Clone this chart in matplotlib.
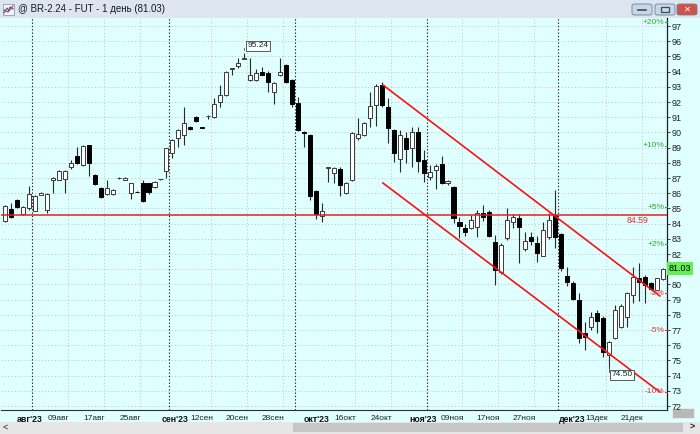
import matplotlib
matplotlib.use("Agg")
import matplotlib.pyplot as plt
from matplotlib.patches import Rectangle, FancyBboxPatch
import pandas as pd
import numpy as np

plt.rcParams["font.family"] = ["Liberation Sans", "DejaVu Sans"]

# ---------------- data ----------------
dates = pd.bdate_range("2023-07-25", "2023-12-26")

opens = [84.20, 84.96, 85.55, 84.60, 85.00, 84.85, 85.90, 84.90, 86.90, 86.87,
         86.93, 87.70, 88.45, 87.85, 89.17, 87.20, 86.35, 85.95, 85.95, 86.98,
         86.90, 86.00, 86.10, 86.67, 86.67, 86.40, 86.92, 87.46, 88.65, 89.63,
         89.80, 90.36, 91.00, 90.32, 91.05, 91.00, 92.00, 92.46, 94.15, 94.40,
         94.85, 93.45, 93.45, 93.95, 93.90, 92.66, 93.77, 94.43, 93.45, 91.93,
         90.05, 89.83, 86.14, 84.50, 87.65, 87.33, 87.60, 86.00, 86.87, 89.63,
         89.83, 90.95, 91.80, 93.12, 91.67, 90.16, 88.25, 89.63, 88.97, 90.00,
         88.18, 87.07, 87.50, 87.90, 86.67, 86.40, 84.10, 83.70, 83.70, 83.77,
         84.70, 84.76, 82.80, 80.80, 83.05, 84.10, 84.37, 82.33, 83.10, 82.70,
         81.90, 83.10, 84.57, 83.30, 80.55, 80.10, 78.97, 76.80, 77.20, 78.10,
         77.80, 75.35, 76.47, 77.20, 77.86, 79.30, 80.40, 80.50, 80.10, 79.63,
         80.36]
highs = [85.20, 85.36, 85.60, 85.15, 86.50, 85.90, 86.10, 86.00, 87.05, 87.50,
         87.50, 88.20, 89.05, 89.15, 89.20, 87.25, 86.40, 86.90, 86.25, 87.05,
         87.05, 86.70, 86.12, 86.90, 86.70, 86.80, 86.95, 89.00, 89.55, 90.20,
         91.67, 90.40, 91.05, 90.34, 91.15, 92.26, 93.10, 94.05, 94.25, 94.90,
         95.24, 94.90, 94.20, 94.30, 94.05, 93.30, 94.90, 94.50, 93.50, 92.33,
         90.08, 89.90, 86.20, 85.36, 87.75, 87.70, 87.70, 86.75, 90.05, 90.95,
         90.70, 92.66, 93.20, 93.30, 92.26, 90.20, 90.16, 90.00, 90.36, 90.36,
         88.84, 87.86, 87.95, 88.45, 86.85, 86.45, 84.43, 84.00, 84.57, 84.90,
         85.22, 84.90, 83.25, 82.75, 85.03, 84.60, 84.60, 83.45, 83.45, 83.20,
         84.10, 84.70, 86.20, 83.35, 81.15, 80.20, 79.43, 77.50, 78.20, 78.30,
         77.90, 76.30, 78.64, 78.70, 79.50, 81.15, 81.40, 80.60, 80.15, 80.45,
         81.10]
lows = [84.10, 84.37, 85.00, 84.55, 84.90, 84.80, 85.85, 84.70, 86.00, 86.85,
        86.00, 87.60, 87.95, 87.80, 87.10, 86.55, 85.70, 85.90, 85.90, 86.95,
        86.85, 85.60, 86.05, 85.45, 85.95, 86.35, 86.90, 87.00, 88.30, 89.04,
        89.17, 90.15, 90.70, 90.28, 90.85, 90.95, 91.67, 92.40, 93.80, 94.24,
        94.80, 93.40, 93.40, 93.75, 92.66, 91.87, 93.70, 93.25, 91.67, 90.10,
        89.04, 85.55, 84.30, 84.10, 86.74, 86.67, 85.82, 85.95, 86.80, 89.50,
        89.75, 90.36, 90.42, 91.70, 89.30, 88.05, 87.40, 88.00, 87.70, 87.40,
        86.74, 86.90, 86.28, 86.60, 86.55, 84.04, 83.05, 83.20, 83.65, 83.10,
        84.20, 83.10, 79.96, 80.70, 82.90, 83.70, 81.40, 82.20, 82.60, 81.47,
        81.85, 83.00, 82.40, 80.90, 79.90, 79.00, 76.14, 75.70, 77.00, 76.80,
        75.20, 74.50, 76.40, 77.10, 77.20, 78.80, 78.90, 78.80, 79.60, 79.60,
        80.30]
closes = [85.15, 84.43, 85.10, 85.10, 85.95, 85.80, 86.00, 85.95, 87.00, 87.45,
          87.46, 88.00, 88.00, 89.10, 88.00, 86.60, 85.75, 86.35, 86.20, 87.02,
          87.00, 86.67, 86.06, 85.50, 86.08, 86.74, 86.94, 88.97, 89.50, 90.16,
          90.60, 90.22, 90.75, 90.30, 91.10, 91.90, 92.46, 93.97, 94.22, 94.55,
          94.90, 93.80, 93.90, 93.80, 93.30, 93.25, 93.97, 93.30, 91.87, 90.16,
          89.95, 85.82, 84.60, 84.80, 87.72, 87.66, 86.54, 86.67, 89.96, 89.90,
          90.60, 91.74, 93.05, 91.80, 90.30, 88.64, 89.83, 88.90, 90.00, 88.10,
          87.33, 87.40, 87.80, 86.67, 86.80, 84.37, 83.84, 83.45, 84.24, 84.70,
          84.43, 83.18, 80.95, 82.60, 84.24, 84.43, 83.77, 82.85, 82.85, 82.07,
          83.60, 84.24, 83.10, 81.08, 80.16, 79.04, 76.47, 76.54, 77.86, 77.60,
          75.55, 76.20, 78.30, 78.60, 79.43, 80.50, 80.15, 79.96, 79.70, 80.40,
          81.03]

last_price = 81.03
level_price = 84.59
hi_label = 95.24
lo_label = 74.50
pct_levels = [20, 10, 5, 2, -2, -5, -10]

# channel anchors (index, price)
chan_x = [63.2, 109.5]
chan_upper = [93.12, 79.24]
chan_lower = [86.67, 72.92]

month_names = {8: "авг", 9: "сен", 10: "окт", 11: "ноя", 12: "дек"}
day_label_dates = ["2023-08-09", "2023-08-17", "2023-08-25", "2023-09-12",
                   "2023-09-20", "2023-09-28", "2023-10-16", "2023-10-24",
                   "2023-11-09", "2023-11-17", "2023-11-27", "2023-12-13",
                   "2023-12-21"]

# ---------------- figure ----------------
W, H = 700, 434
fig = plt.figure(figsize=(7, 4.34), dpi=100)
fig.patch.set_facecolor("#F0F0F0")
BG = "#E0FFFF"

def fx(px):
    return px / W

def fy(py):
    return 1 - py / H

# title bar
fig.patches.append(Rectangle((0, fy(18)), 1, 18 / H, transform=fig.transFigure,
                             facecolor="#DDE6F0", edgecolor="none", zorder=-5))
fig.text(fx(18), fy(9), "@ BR-2.24 - FUT - 1 день (81.03)", fontsize=7,
         va="center", ha="left", color="#1A1A1A")
# small icon
fig.patches.append(Rectangle((fx(3), fy(15)), 11 / W, 11 / H, transform=fig.transFigure,
                             facecolor="#F4F4F4", edgecolor="#8A8A8A", lw=0.5))
fig.lines.append(plt.Line2D([fx(4), fx(7), fx(9), fx(13)], [fy(13), fy(8), fy(11), fy(6)],
                            transform=fig.transFigure, color="#D03030", lw=0.8))
fig.lines.append(plt.Line2D([fx(4), fx(8), fx(10), fx(13)], [fy(10), fy(12), fy(7), fy(9)],
                            transform=fig.transFigure, color="#2060C0", lw=0.8))
# window buttons
for x0, fc in [(632, "#C9D6E6"), (655, "#C9D6E6"), (677, "#D0524A")]:
    fig.patches.append(FancyBboxPatch((fx(x0), fy(15)), 20 / W, 11 / H,
                                      boxstyle="round,pad=0,rounding_size=0.004",
                                      transform=fig.transFigure, facecolor=fc,
                                      edgecolor="#6E7E94", lw=0.6))
fig.lines.append(plt.Line2D([fx(638), fx(646)], [fy(10), fy(10)], transform=fig.transFigure,
                            color="#3A4A60", lw=1.2))
fig.patches.append(Rectangle((fx(661), fy(12)), 8 / W, 5 / H, transform=fig.transFigure,
                             facecolor="none", edgecolor="#3A4A60", lw=0.9))
fig.text(fx(687), fy(9.5), "✕", fontsize=6, color="white", ha="center", va="center",
         fontweight="bold", family="DejaVu Sans")

# plot-surrounding background (axis strips)
fig.patches.append(Rectangle((0, fy(422)), 1, (422 - 18) / H, transform=fig.transFigure,
                             facecolor=BG, edgecolor="none", zorder=-5))
# scrollbar
fig.patches.append(Rectangle((0, 0), 1, 12 / H, transform=fig.transFigure,
                             facecolor="#E6E6E6", edgecolor="none", zorder=-5))
fig.patches.append(Rectangle((fx(293), fy(432)), (683 - 293) / W, 9 / H,
                             transform=fig.transFigure, facecolor="#C6C6C6", edgecolor="none",
                             zorder=-4))
fig.text(fx(5), fy(427.5), "<", fontsize=6.5, ha="center", va="center", color="#202020")
fig.text(fx(692), fy(427.5), ">", fontsize=6.5, ha="center", va="center", color="#202020",
         fontweight="bold")
fig.patches.append(Rectangle((fx(672), fy(418)), 22 / W, 10 / H, transform=fig.transFigure,
                             facecolor="#B8B8B8", edgecolor="#E8E8E8", lw=0.8, zorder=-4))

# main axes
top_px, bot_px, left_px, right_px = 18, 410, 1, 667
ax = fig.add_axes([fx(left_px), fy(bot_px), (right_px - left_px) / W, (bot_px - top_px) / H])
ax.set_zorder(2)
ax.set_facecolor(BG)

step = 5.98  # px per candle
x0px = 5.0
ax.set_xlim((left_px - x0px) / step, (right_px - x0px) / step)
ppu = 15.2
ax.set_ylim(97 - (bot_px - 26) / ppu, 97 + (26 - top_px) / ppu)

n = len(closes)
idx = np.arange(n)

# grid
for p in range(72, 98):
    ax.axhline(p, color="#C4C4C4", lw=0.6, ls=(0, (1.5, 2.5)), zorder=1)

month_starts = [i for i in range(1, n) if dates[i].month != dates[i - 1].month]
day_idx = [int(np.where(dates == pd.Timestamp(d))[0][0]) for d in day_label_dates]
for i in day_idx:
    ax.axvline(i - 0.5, color="#C4C4C4", lw=0.6, ls=(0, (1.5, 2.5)), zorder=1)
for i in month_starts:
    ax.axvline(i - 0.5, color="#202020", lw=0.8, ls=(0, (1.2, 1.8)), zorder=1)

# candles
o = np.array(opens); c = np.array(closes); h = np.array(highs); l = np.array(lows)
up = c >= o
ax.vlines(idx, l, h, color="#2A2A2A", lw=0.8, zorder=3)
bw = 0.68
body_lo = np.minimum(o, c)
body_h = np.maximum(np.abs(c - o), 0.04)
ax.bar(idx[up], body_h[up], bottom=body_lo[up], width=bw, color="white",
       edgecolor="#3A3A3A", linewidth=0.7, zorder=4)
ax.bar(idx[~up], body_h[~up], bottom=body_lo[~up], width=bw, color="black",
       edgecolor="black", linewidth=0.7, zorder=4)

# horizontal level
ax.axhline(level_price, color="#E02020", lw=1.1, zorder=5)
ax.text(0.956, level_price - 0.12, f"{level_price:.2f}", transform=ax.get_yaxis_transform(),
        color="#E03030", fontsize=6.3, ha="center", va="top", zorder=6)

# channel
ax.plot(chan_x, chan_upper, color="#FF1010", lw=1.2, zorder=5)
ax.plot(chan_x, chan_lower, color="#FF1010", lw=1.2, zorder=5)

# percent levels
for pc in pct_levels:
    pv = last_price * (1 + pc / 100)
    col = "#2DAA2D" if pc > 0 else "#E03A3A"
    lab = f"+{pc}%" if pc > 0 else f"{pc}%"
    ax.text(0.9965, pv, lab, transform=ax.get_yaxis_transform(), color=col,
            fontsize=6, ha="right", va="center", zorder=6)
    ax.plot([0.997, 1.0], [pv, pv], transform=ax.get_yaxis_transform(), color=col,
            lw=0.8, zorder=6, clip_on=False)

# hi / lo annotations
i_hi = int(np.argmax(h)); i_lo = int(np.argmin(l))
ax.annotate(f"{hi_label:.2f}", xy=(i_hi, hi_label), xytext=(i_hi + 2.3, hi_label + 0.45),
            fontsize=6, ha="center", va="center", color="#202020",
            bbox=dict(boxstyle="square,pad=0.15", fc="#F4FFFF", ec="#404040", lw=0.6),
            arrowprops=dict(arrowstyle="-", color="#404040", lw=0.6,
                            connectionstyle="angle,angleA=0,angleB=90,rad=0"), zorder=7)
ax.annotate(f"{lo_label:.2f}", xy=(i_lo, lo_label + 0.4), xytext=(i_lo + 2.2, lo_label - 0.45),
            fontsize=6, ha="center", va="center", color="#202020",
            bbox=dict(boxstyle="square,pad=0.15", fc="#F4FFFF", ec="#404040", lw=0.6),
            arrowprops=dict(arrowstyle="-", color="#404040", lw=0.6,
                            connectionstyle="angle,angleA=0,angleB=90,rad=0"), zorder=7)

# right axis (label at the last price is hidden by the price tag)
ax.yaxis.tick_right()
yt = list(range(72, 98))
ax.set_yticks(yt)
ax.set_yticklabels(["" if abs(v - last_price) < 0.5 else str(v) for v in yt])
ax.tick_params(axis="y", which="both", right=True, left=False, labelright=True,
               labelleft=False, length=2, width=0.6, pad=1.5, labelsize=6.5,
               colors="#202020")
ax.set_xticks([])
for s in ["left", "top"]:
    ax.spines[s].set_visible(False)
ax.spines["right"].set_color("#202020")
ax.spines["right"].set_linewidth(0.9)
ax.spines["bottom"].set_color("#303030")
ax.spines["bottom"].set_linewidth(0.8)

# last price tag
ax.text(1.003, last_price, f"{last_price:.2f}", transform=ax.get_yaxis_transform(),
        fontsize=6.5, ha="left", va="center", color="black", zorder=8,
        bbox=dict(boxstyle="square,pad=0.2", fc="#66EE55", ec="none"), clip_on=False)

# bottom labels
xtr = ax.get_xaxis_transform()
month_label_shift = {8: -0.3, 9: 0.9, 10: 3.6, 11: -0.6, 12: 2.4}
for i in month_starts:
    m = dates[i].month
    ax.text(i - 0.5 + month_label_shift[m], -0.014, f"{month_names[m]}'23", transform=xtr,
            fontsize=6.3, fontweight="bold", ha="center", va="top", color="#101010")
for i in day_idx:
    d = dates[i]
    ax.text(i - 0.5 + 0.3, -0.014, f"{d.day:02d}{month_names[d.month]}", transform=xtr,
            fontsize=6, ha="right", va="top", color="#202020")

fig.savefig("out.png", dpi=100, facecolor=fig.get_facecolor())
